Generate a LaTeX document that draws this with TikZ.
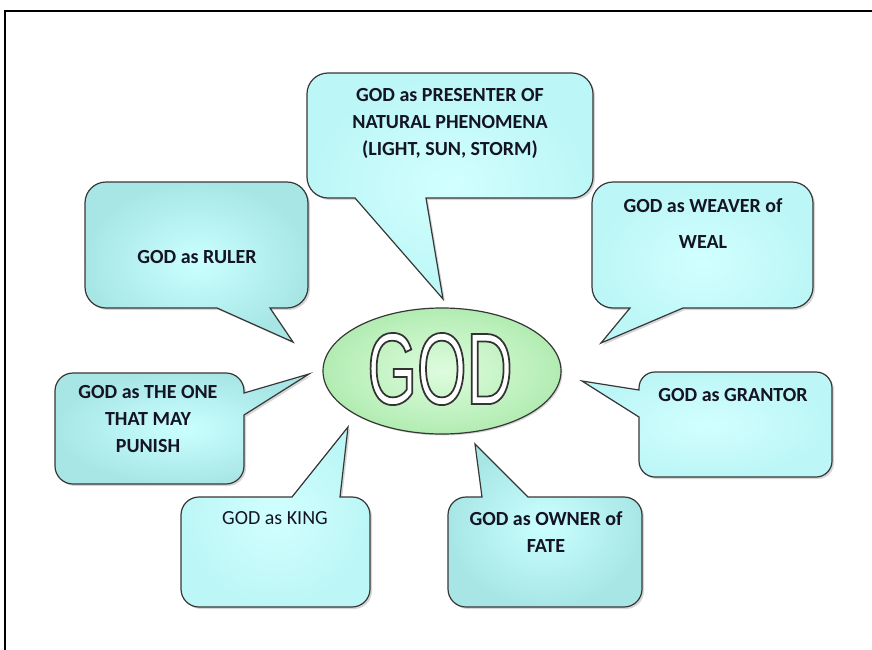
\documentclass[tikz,border=0pt]{standalone}
\usepackage{fontspec}
\usetikzlibrary{shapes.geometric}
\newfontfamily\calib{Carlito}
\newfontfamily\godfont[FakeStretch=0.625]{Liberation Sans}
\definecolor{edgecol}{RGB}{55,55,55}
\definecolor{bubin}{RGB}{210,255,255}
\definecolor{bubout}{RGB}{188,246,246}
\definecolor{bdin}{RGB}{202,255,255}
\definecolor{bdout}{RGB}{168,230,230}
\definecolor{elin}{RGB}{222,252,222}
\definecolor{elout}{RGB}{178,236,178}
\definecolor{txtcol}{RGB}{20,20,35}
\newcommand\outlinetext[1]{\textcolor{white}{\special{pdf:literal direct 2 Tr 1.3 w 0.2 0.2 0.2 RG}#1\special{pdf:literal direct 0 Tr 0.4 w}}}
\newcommand\bubble[2]{\fill[shad, xshift=1.5pt, yshift=-1.5pt] #2;\shadedraw[#1] #2;}
\tikzset{
  bub/.style={draw=edgecol, line width=0.9pt, inner color=bubin, outer color=bubout},
  bubdark/.style={bub, inner color=bdin, outer color=bdout},
  shad/.style={fill=black, opacity=0.16},
  lbl/.style={font=\calib\bfseries\fontsize{15}{20.25}\selectfont, text=txtcol, align=center, inner sep=0pt},
  lblreg/.style={lbl, font=\calib\fontsize{15}{20.25}\selectfont},
  godlbl/.style={font=\godfont\fontsize{76.5}{80}\selectfont, inner sep=0pt},
  frameline/.style={line width=1.1pt, draw=black},
}
\begin{document}
\begin{tikzpicture}[x=0.75pt,y=-0.75pt]
\useasboundingbox (0,0) rectangle (872,650);
\fill[white] (0,0) rectangle (872,650);
\draw[frameline] (5,650) -- (5,11) -- (872,11);

% Presenter
\bubble{bub}{(450,73) [rounded corners=15.75pt] -- (593,73) -- (593,198) [sharp corners] -- (426,198) -- (443,299) -- (355,198) [rounded corners=15.75pt] -- (307,198) -- (307,73) -- cycle}
% Ruler
\bubble{bubdark}{(196,182) [rounded corners=15.75pt] -- (308,182) -- (308,308) [sharp corners] -- (270,308) -- (293,342) -- (217,308) [rounded corners=15.75pt] -- (85,308) -- (85,182) -- cycle}
% Weaver
\bubble{bub}{(700,182) [rounded corners=15.75pt] -- (813,182) -- (813,308) [sharp corners] -- (683,308) -- (601,343) -- (630,308) [rounded corners=15.75pt] -- (592,308) -- (592,182) -- cycle}
% Grantor
\bubble{bub}{(735,372) [rounded corners=12pt] -- (832,372) -- (832,477) -- (639,477) [sharp corners] -- (639,417) -- (582,381) -- (639,390) [rounded corners=12pt] -- (639,372) -- cycle}
% Punish
\bubble{bubdark}{(150,373) [rounded corners=13.5pt] -- (244,373) [sharp corners] -- (244,393) -- (309,374) -- (244,415) [rounded corners=13.5pt] -- (244,484) -- (55,484) -- (55,373) -- cycle}
% King
\bubble{bub}{(275,607) [rounded corners=13.5pt] -- (181,607) -- (181,497) [sharp corners] -- (292,497) -- (348,427) -- (340,497) [rounded corners=13.5pt] -- (370,497) -- (370,607) -- cycle}
% Owner
\bubble{bubdark}{(545,607) [rounded corners=13.5pt] -- (448,607) -- (448,497) [sharp corners] -- (482,497) -- (475,444) -- (528,497) [rounded corners=13.5pt] -- (642,497) -- (642,607) -- cycle}

% Centre ellipse
\fill[shad] (443.5,372.5) ellipse [x radius=89.25pt, y radius=47.25pt];
\node[ellipse, draw=edgecol, line width=0.9pt, inner color=elin, outer color=elout,
      minimum width=178.5pt, minimum height=94.5pt, inner sep=0pt] (god) at (442,371) {};
\node[godlbl] (godword) at (440,369) {\outlinetext{GOD}};

% Labels
\node[lbl] (presenter) at (450,123) {GOD as PRESENTER OF\\NATURAL PHENOMENA\\(LIGHT, SUN, STORM)};
\node[lbl] (ruler) at (197,257) {GOD as RULER};
\node[lbl] (weaver) at (703,224) {GOD as WEAVER of\\[6.75pt]WEAL};
\node[lbl] (grantor) at (733,395) {GOD as GRANTOR};
\node[lbl] (punish) at (148,419) {GOD as THE ONE\\THAT MAY\\PUNISH};
\node[lblreg] (king) at (275,518) {GOD as KING};
\node[lbl] (owner) at (546,532) {GOD as OWNER of\\FATE};
\end{tikzpicture}
\end{document}
